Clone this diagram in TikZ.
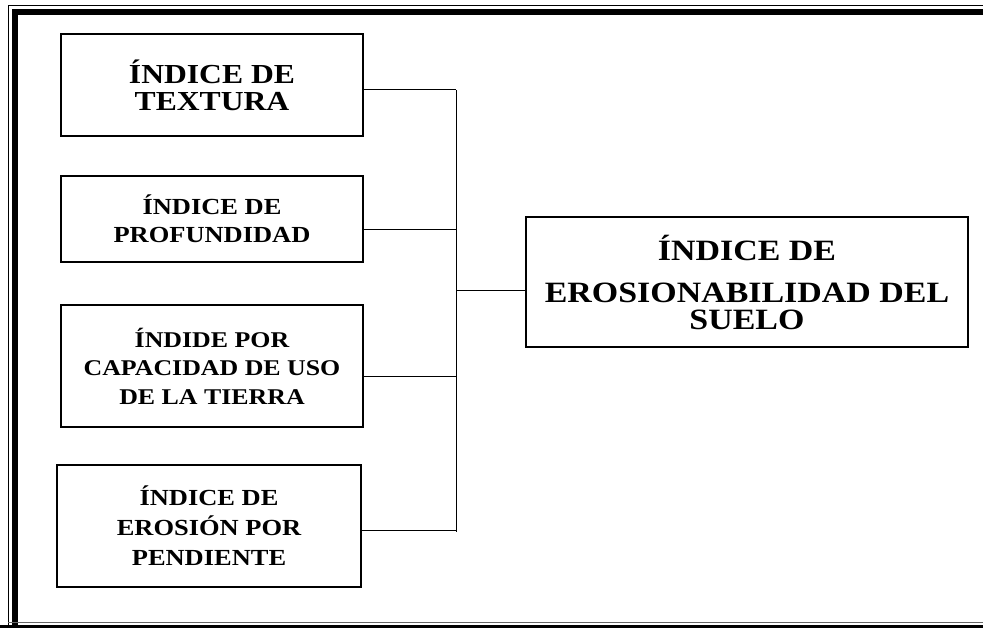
\documentclass[tikz,border=0pt]{standalone}
\usepackage{fontspec}
\setmainfont[FakeStretch=1.15]{Liberation Serif}
\begin{document}
\begin{tikzpicture}[x=1pt,y=-1pt,
  box/.style={draw=black, line width=1.6pt, inner sep=0pt, align=center, font=\bfseries},
  conn/.style={draw=black, line width=1pt}]
\useasboundingbox (0,0) rectangle (983,628);
% page frame
\draw[line width=1pt] (8,628) -- (8,5.5) -- (983,5.5);
\draw[line width=6pt] (15,628) -- (15,12.5) -- (983,12.5);
\fill[black] (0,624.5) rectangle (983,628);
\draw[line width=0.8pt, black!60] (8,622.8) -- (983,622.8);
% boxes
\node[box, minimum width=302pt, minimum height=102pt,
  font=\bfseries\fontsize{27.5}{26.7}\selectfont] (t1) at (212,85) {ÍNDICE DE\\TEXTURA};
\node[box, minimum width=302pt, minimum height=86pt,
  font=\bfseries\fontsize{23}{28.3}\selectfont] (t2) at (212,219) {ÍNDICE DE\\PROFUNDIDAD};
\node[box, minimum width=302pt, minimum height=122pt,
  font=\bfseries\fontsize{22.5}{28.5}\selectfont] (t3) at (212,366) {ÍNDIDE POR\\CAPACIDAD DE USO\\DE LA TIERRA};
\node[box, minimum width=304pt, minimum height=122pt,
  font=\bfseries\fontsize{23}{30}\selectfont] (t4) at (209,526) {ÍNDICE DE\\EROSIÓN POR\\PENDIENTE};
\node[box, minimum width=442pt, minimum height=130pt,
  font=\bfseries\fontsize{29.5}{27}\selectfont] (big) at (747,282) {ÍNDICE DE\\[15pt]EROSIONABILIDAD DEL\\SUELO};
% bus coordinates
\coordinate (j1) at (456,90);
\coordinate (j2) at (456,230);
\coordinate (j3) at (456,377);
\coordinate (j4) at (456,530);
\coordinate (jb) at (456,532);
\coordinate (jm) at (456,291);
% connectors
\draw[conn] (t1.east |- j1) -- (j1);
\draw[conn] (t2.east |- j2) -- (j2);
\draw[conn] (t3.east |- j3) -- (j3);
\draw[conn] (t4.east |- j4) -- (j4);
\draw[conn] (j1) -- (jb);
\draw[conn] (jm) -- (big.west |- jm);
\end{tikzpicture}
\end{document}
